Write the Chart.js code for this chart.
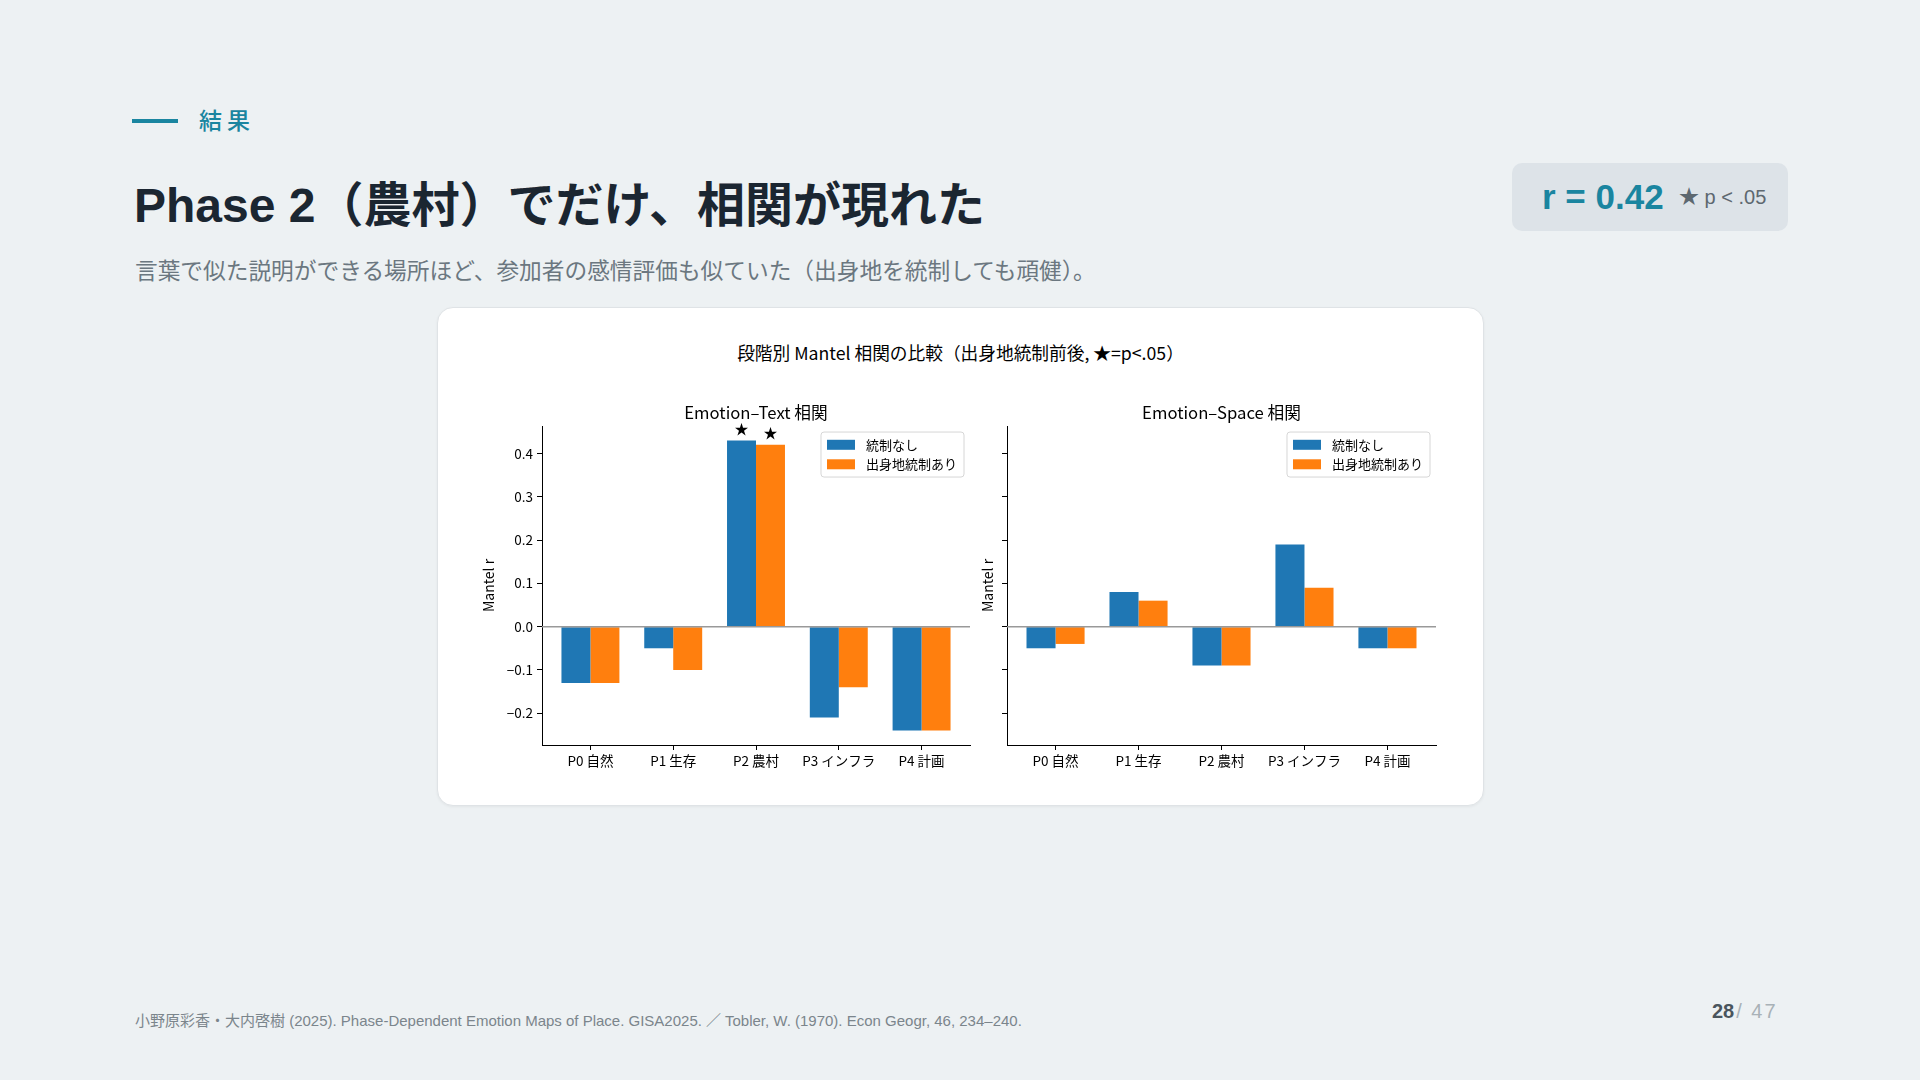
<!DOCTYPE html>
<html lang="ja">
<head>
<meta charset="utf-8">
<script src="https://cdn.jsdelivr.net/npm/chart.js@4.4.1/dist/chart.umd.min.js"></script>
<style>
  body {
    margin: 0;
    width: 1920px;
    height: 1080px;
    background: #edf1f3;
    position: relative;
    overflow: hidden;
    font-family: "Liberation Sans", "Noto Sans CJK JP", sans-serif;
  }
  .eyebrow-line { position: absolute; left: 132px; top: 119px; width: 46px; height: 4px; background: #1a85a0; }
  .eyebrow { position: absolute; left: 199px; top: 103px; font-size: 23px; letter-spacing: 5px; color: #1a85a0; font-family: "Noto Sans CJK JP", sans-serif; font-weight: 500; line-height: 32px; }
  .title { position: absolute; left: 134px; top: 176px; font-size: 48px; font-weight: bold; color: #1b2631; line-height: 60px; white-space: nowrap; }
  .subtitle { position: absolute; left: 135px; top: 255px; font-size: 22.7px; color: #6b7780; line-height: 30px; white-space: nowrap; font-family: "Noto Sans CJK JP", sans-serif; }
  .badge { position: absolute; left: 1512px; top: 163px; width: 276px; height: 68px; background: #dde3e8; border-radius: 10px; }
  .badge .r { position: absolute; left: 30px; top: 13px; font-size: 35px; font-weight: bold; color: #1a85a0; line-height: 42px; }
  .badge .p { position: absolute; left: 167px; top: 21px; font-size: 20px; color: #5d6870; line-height: 26px; white-space: nowrap; }
  .card { position: absolute; left: 437px; top: 307px; width: 1045px; height: 497px; background: #fff; border: 1px solid #dfe3e6; border-radius: 16px; box-shadow: 0 1px 3px rgba(0,0,0,0.05); }
  .suptitle { position: absolute; left: 437px; width: 1047px; top: 339px; text-align: center; font-size: 17.7px; color: #000; font-family: "Noto Sans CJK JP", sans-serif; line-height: 26px; }
  canvas { position: absolute; }
  #textChart { left: 470px; top: 403px; }
  #spaceChart { left: 975px; top: 403px; }
  .footer { position: absolute; left: 135px; top: 1011px; font-size: 15px; color: #7b858c; white-space: nowrap; line-height: 20px; }
  .page { position: absolute; left: 1712px; top: 999px; white-space: nowrap; font-size: 20px; line-height: 24px; }
  .page b { color: #4a555d; }
  .page span { color: #a9b1b7; letter-spacing: 2px; margin-left: 2px; }
</style>
</head>
<body>
<div class="eyebrow-line"></div>
<div class="eyebrow">結果</div>
<div class="title">Phase 2（農村）でだけ、相関が現れた</div>
<div class="subtitle">言葉で似た説明ができる場所ほど、参加者の感情評価も似ていた（出身地を統制しても頑健）。</div>
<div class="badge"><div class="r">r = 0.42</div><div class="p">★ p &lt; .05</div></div>
<div class="card"></div>
<div class="suptitle">段階別 Mantel 相関の比較（出身地統制前後, ★=p&lt;.05）</div>
<canvas id="textChart" width="505" height="372"></canvas>
<canvas id="spaceChart" width="466" height="372"></canvas>
<div class="footer">小野原彩香・大内啓樹 (2025). Phase-Dependent Emotion Maps of Place. GISA2025. ／ Tobler, W. (1970). Econ Geogr, 46, 234–240.</div>
<div class="page"><b>28</b><span>/ 47</span></div>

<script>
// data
var categories = ['P0 自然', 'P1 生存', 'P2 農村', 'P3 インフラ', 'P4 計画'];
var seriesNames = ['統制なし', '出身地統制あり'];
var textRaw = [-0.13, -0.05, 0.43, -0.21, -0.24];
var textCtrl = [-0.13, -0.10, 0.42, -0.14, -0.24];
var textSigRaw = [false, false, true, false, false];
var textSigCtrl = [false, false, true, false, false];
var spaceRaw = [-0.05, 0.08, -0.09, 0.19, -0.05];
var spaceCtrl = [-0.04, 0.06, -0.09, 0.09, -0.05];
var spaceSigRaw = [false, false, false, false, false];
var spaceSigCtrl = [false, false, false, false, false];
var yTicks = [-0.2, -0.1, 0.0, 0.1, 0.2, 0.3, 0.4];
var colors = ['#1f77b4', '#ff7f0e'];

var family = '"Noto Sans CJK JP", sans-serif';
var barWidth = 0.35;

// shared y limits with 5% margins, like matplotlib
var all = textRaw.concat(textCtrl, spaceRaw, spaceCtrl);
var lo = Math.min.apply(null, all), hi = Math.max.apply(null, all);
var yMin = lo - (hi - lo) * 0.05, yMax = hi + (hi - lo) * 0.05;
var xSpan = categories.length - 1 + 2 * barWidth;
var xMin = -barWidth - xSpan * 0.05, xMax = categories.length - 1 + barWidth + xSpan * 0.05;

function toPoints(vals) {
  return vals.map(function (v, i) { return { x: i, y: v }; });
}

var extras = {
  id: 'extras',
  afterDatasetsDraw: function (chart) {
    var ctx = chart.ctx, area = chart.chartArea, ys = chart.scales.y;
    ctx.save();
    // zero line
    var y0 = ys.getPixelForValue(0);
    ctx.strokeStyle = '#999';
    ctx.lineWidth = 1.5;
    ctx.beginPath();
    ctx.moveTo(area.left, y0);
    ctx.lineTo(area.right, y0);
    ctx.stroke();

    // significance stars
    ctx.fillStyle = '#000';
    ctx.font = '14px ' + family;
    ctx.textAlign = 'center';
    ctx.textBaseline = 'bottom';
    chart.data.datasets.forEach(function (ds, i) {
      var meta = chart.getDatasetMeta(i);
      ds.sig.forEach(function (s, j) {
        if (s) {
          ctx.fillText('★', meta.data[j].x, ys.getPixelForValue(ds.data[j].y + 0.012));
        }
      });
    });

    // legend, upper right
    ctx.font = '13px ' + family;
    var tw = 0;
    chart.data.datasets.forEach(function (ds) { tw = Math.max(tw, ctx.measureText(ds.label).width); });
    var rowH = 19.5, hw = 28, hh = 10;
    var bw = 6 + hw + 11 + tw + 7, bh = rowH * 2 + 6;
    var bx = area.right - 6 - bw, by = area.top + 6;
    ctx.beginPath();
    ctx.roundRect(bx, by, bw, bh, 3);
    ctx.fillStyle = 'rgba(255,255,255,0.8)';
    ctx.fill();
    ctx.strokeStyle = '#d6d6d6';
    ctx.lineWidth = 1;
    ctx.stroke();
    ctx.textAlign = 'left';
    ctx.textBaseline = 'middle';
    chart.data.datasets.forEach(function (ds, i) {
      var cy = by + 3 + rowH * i + rowH / 2;
      ctx.fillStyle = ds.backgroundColor;
      ctx.fillRect(bx + 6, cy - hh / 2, hw, hh);
      ctx.fillStyle = '#000';
      ctx.fillText(ds.label, bx + 6 + hw + 11, cy);
    });
    ctx.restore();
  }
};

function makeChart(id, title, raw, ctrl, sigRaw, sigCtrl, showLabels, yWidth, titlePad, rightPad) {
  return new Chart(document.getElementById(id), {
    type: 'bar',
    data: {
      datasets: [
        { label: seriesNames[0], data: toPoints(raw), sig: sigRaw, backgroundColor: colors[0] },
        { label: seriesNames[1], data: toPoints(ctrl), sig: sigCtrl, backgroundColor: colors[1] }
      ]
    },
    options: {
      responsive: false,
      animation: false,
      categoryPercentage: barWidth * 2,
      barPercentage: 1.0,
      layout: { padding: { left: 0, right: rightPad, top: 0, bottom: 0 } },
      plugins: {
        legend: { display: false },
        tooltip: { enabled: false },
        title: {
          display: true, text: title, color: '#000', fullSize: false,
          font: { size: 16.7, family: family, weight: 'normal' },
          padding: { top: 0, bottom: 3 }
        }
      },
      scales: {
        x: {
          type: 'linear', min: xMin, max: xMax, offset: false,
          afterBuildTicks: function (s) { s.ticks = categories.map(function (c, i) { return { value: i }; }); },
          afterFit: function (s) { s.height = 30; },
          grid: { display: true, offset: false, drawOnChartArea: false, tickLength: 5, tickColor: '#000', tickWidth: 1 },
          border: { display: true, color: '#000', width: 1 },
          ticks: {
            color: '#000', padding: 3, maxRotation: 0, autoSkip: false,
            font: { size: 13.5, family: family },
            callback: function (v, i) { return categories[i]; }
          }
        },
        y: {
          min: yMin, max: yMax,
          afterBuildTicks: function (s) { s.ticks = yTicks.map(function (v) { return { value: v }; }); },
          afterFit: function (s) { s.width = yWidth; },
          grid: { display: true, drawOnChartArea: false, tickLength: 5, tickColor: '#000', tickWidth: 1 },
          border: { display: true, color: '#000', width: 1 },
          ticks: {
            display: showLabels, color: '#000', padding: 4,
            font: { size: 13.5, family: family },
            callback: function (v) { return v.toFixed(1).replace('-', '\u2212'); }
          },
          title: {
            display: true, text: 'Mantel r', color: '#000',
            font: { size: 14, family: family },
            padding: { top: titlePad, bottom: 0 }
          }
        }
      }
    },
    plugins: [extras]
  });
}

makeChart('textChart', 'Emotion\u2013Text 相関', textRaw, textCtrl, textSigRaw, textSigCtrl, true, 72, 10, 5);
makeChart('spaceChart', 'Emotion\u2013Space 相関', spaceRaw, spaceCtrl, spaceSigRaw, spaceSigCtrl, false, 32, 4.6, 5);
</script>
</body>
</html>
